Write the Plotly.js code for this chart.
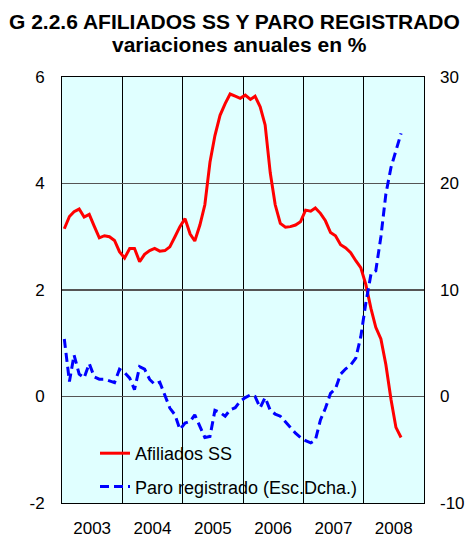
<!DOCTYPE html>
<html>
<head>
<meta charset="utf-8">
<script src="https://cdn.plot.ly/plotly-3.0.1.min.js"></script>
<style>
  html, body { margin: 0; padding: 0; background: #ffffff; }
  #chart { width: 467px; height: 537px; }
</style>
</head>
<body>
<div id="chart"></div>
<script>
// Monthly observations (mid-month), Jan 2003 - Aug 2008
const months = [
  "2003-01-15","2003-02-15","2003-03-15","2003-04-15","2003-05-15","2003-06-15","2003-07-15","2003-08-15","2003-09-15","2003-10-15","2003-11-15","2003-12-15",
  "2004-01-15","2004-02-15","2004-03-15","2004-04-15","2004-05-15","2004-06-15","2004-07-15","2004-08-15","2004-09-15","2004-10-15","2004-11-15","2004-12-15",
  "2005-01-15","2005-02-15","2005-03-15","2005-04-15","2005-05-15","2005-06-15","2005-07-15","2005-08-15","2005-09-15","2005-10-15","2005-11-15","2005-12-15",
  "2006-01-15","2006-02-15","2006-03-15","2006-04-15","2006-05-15","2006-06-15","2006-07-15","2006-08-15","2006-09-15","2006-10-15","2006-11-15","2006-12-15",
  "2007-01-15","2007-02-15","2007-03-15","2007-04-15","2007-05-15","2007-06-15","2007-07-15","2007-08-15","2007-09-15","2007-10-15","2007-11-15","2007-12-15",
  "2008-01-15","2008-02-15","2008-03-15","2008-04-15","2008-05-15","2008-06-15","2008-07-15","2008-08-15"
];

// Afiliados SS, annual % change (left axis)
const afiliadosSS = [
  3.15, 3.38, 3.47, 3.52, 3.37, 3.42, 3.20, 2.98, 3.02, 3.00, 2.93, 2.72,
  2.60, 2.78, 2.78, 2.53, 2.67, 2.74, 2.78, 2.73, 2.74, 2.81, 3.00, 3.19,
  3.34, 3.05, 2.92, 3.22, 3.60, 4.40, 4.90, 5.28, 5.50, 5.68, 5.64, 5.60,
  5.66, 5.58, 5.64, 5.44, 5.10, 4.20, 3.60, 3.25, 3.18, 3.19, 3.22, 3.28,
  3.50, 3.48, 3.54, 3.44, 3.30, 3.08, 3.02, 2.85, 2.79, 2.70, 2.55, 2.42,
  2.10, 1.65, 1.30, 1.08, 0.60, -0.05, -0.58, -0.77
];

// Paro registrado, annual % change (right axis)
const paroRegistrado = [
  5.4, 1.4, 3.9, 2.1, 1.75, 3.1, 1.85, 1.63, 1.63, 1.5, 1.3, 2.55,
  2.25, 1.72, 0.65, 2.8, 2.57, 1.6, 1.15, 1.35, 0.16, -1.09, -1.72, -3.1,
  -2.5, -2.34, -1.72, -2.85, -3.85, -3.75, -1.3, -1.5, -1.85, -1.25, -1.05, -0.45,
  -0.1, 0.15, 0.0, -1.05, -0.1, -1.3, -1.65, -1.85, -2.4, -2.9, -3.45, -3.85,
  -4.15, -4.35, -4.1, -2.2, -1.1, 0.3, 0.72, 2.1, 2.6, 2.95, 3.6, 5.6,
  8.8, 11.5, 11.8, 15.0, 19.0, 21.5, 23.0, 24.7
];

// Axis tick values and labels (hyphen minus, as in the original)
const leftTickVals = [-2, 0, 2, 4, 6];
const leftTickText = ["-2", "0", "2", "4", "6"];
const rightTickVals = [-10, 0, 10, 20, 30];
const rightTickText = ["-10", "0", "10", "20", "30"];

const seriesNames = ["Afiliados SS", "Paro registrado (Esc.Dcha.)"];
const titleLine1 = "G 2.2.6 AFILIADOS SS Y PARO REGISTRADO";
const titleLine2 = "variaciones anuales en %";

const FONT = "Liberation Sans, Arial, Helvetica, sans-serif";

const traces = [
  {
    x: months, y: afiliadosSS, name: seriesNames[0], type: "scatter", mode: "lines",
    yaxis: "y", legendgroup: "a",
    line: { color: "#FF0000", width: 3 }
  },
  {
    x: months, y: paroRegistrado, name: seriesNames[1], type: "scatter", mode: "lines",
    yaxis: "y2", legendgroup: "b",
    line: { color: "#0000FF", width: 3, dash: "9px,5px" }
  }
];

const layout = {
  width: 467, height: 537,
  margin: { l: 62, r: 43, t: 77, b: 34, pad: 0 },
  paper_bgcolor: "#FFFFFF",
  plot_bgcolor: "#E0FFFF",
  font: { family: FONT, size: 17, color: "#000000" },
  showlegend: true,
  title: {
    text: "<b>" + titleLine1 + "</b>",
    x: 9 / 467, xref: "container", xanchor: "left",
    y: 1 - 22 / 537, yref: "container", yanchor: "middle",
    font: { family: FONT, size: 21, color: "#000000" }
  },
  annotations: [
    {
      text: "<b>" + titleLine2 + "</b>",
      xref: "paper", yref: "paper",
      x: (239 - 62) / 362, y: (503 - 44) / 426,
      xanchor: "center", yanchor: "middle", showarrow: false,
      font: { family: FONT, size: 21, color: "#000000" }
    }
  ],
  xaxis: {
    type: "date",
    range: ["2003-01-01", "2009-01-01"],
    tick0: "2003-01-01", dtick: "M12",
    tickformat: "%Y",
    ticklabelmode: "period",
    ticks: "", showgrid: true, gridcolor: "#000000", gridwidth: 1,
    showline: true, linecolor: "#000000", linewidth: 1, mirror: true,
    zeroline: false, fixedrange: true,
    ticklabelstandoff: 10,
    tickfont: { family: FONT, size: 17, color: "#000000" }
  },
  yaxis: {
    range: [-2, 6], tickmode: "array", tickvals: leftTickVals, ticktext: leftTickText,
    ticks: "", showgrid: true, gridcolor: "#555555", gridwidth: 1.3,
    showline: true, linecolor: "#000000", linewidth: 1, mirror: true,
    zeroline: false, fixedrange: true,
    ticklabelstandoff: 13,
    tickfont: { family: FONT, size: 17, color: "#000000" }
  },
  yaxis2: {
    range: [-10, 30], tickmode: "array", tickvals: rightTickVals, ticktext: rightTickText,
    overlaying: "y", side: "right",
    ticks: "", showgrid: false, zeroline: false, showline: false, fixedrange: true,
    ticklabelstandoff: 15,
    tickfont: { family: FONT, size: 17, color: "#000000" }
  },
  legend: {
    x: (95 - 62) / 362, y: (503 - 435) / 426,
    xanchor: "left", yanchor: "top",
    bgcolor: "rgba(0,0,0,0)", borderwidth: 0,
    traceorder: "grouped", tracegroupgap: 7,
    itemwidth: 30,
    font: { family: FONT, size: 18, color: "#000000" }
  }
};

Plotly.newPlot("chart", traces, layout, { displayModeBar: false, staticPlot: true });
</script>
</body>
</html>
